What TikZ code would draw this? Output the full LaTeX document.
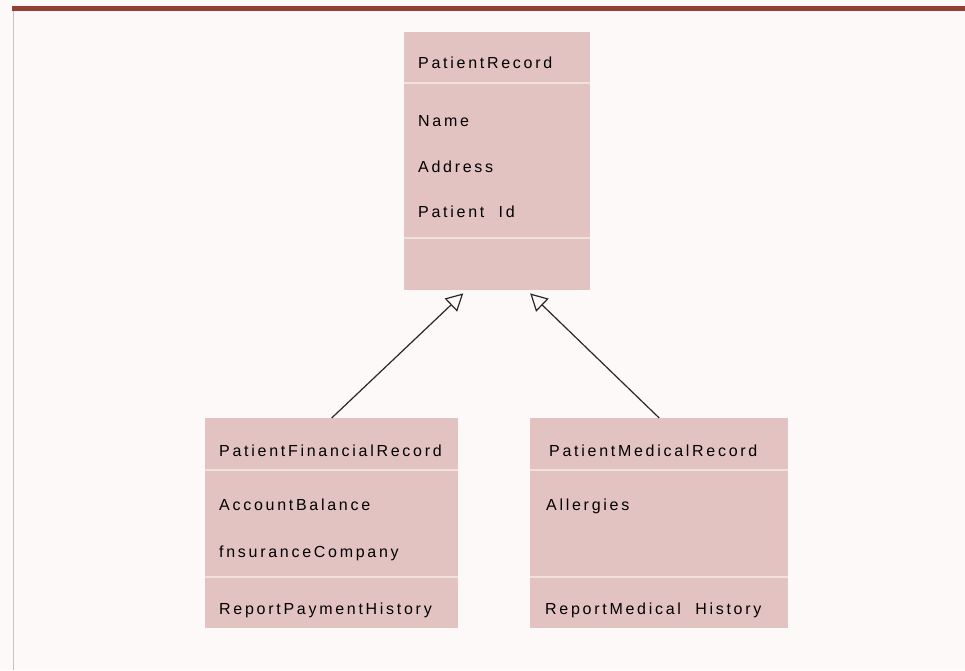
\documentclass[tikz,border=0pt]{standalone}
\usepackage{fontspec}
\setmainfont{Liberation Sans}
\newfontfamily\classfont{Liberation Sans}[LetterSpace=17]
\usepackage{tikz}
\usetikzlibrary{arrows.meta,positioning,calc}
\usepackage{xcolor}
\definecolor{BarRed}{RGB}{150,62,52}
\definecolor{BoxPink}{RGB}{226,195,193}
\definecolor{SepPink}{RGB}{240,224,222}
\definecolor{PageTint}{RGB}{253,249,249}
\definecolor{EdgeGray}{RGB}{200,196,196}
\definecolor{LineDark}{RGB}{40,40,40}

\begin{document}
\begin{tikzpicture}[x=1pt,y=-1pt,
  cls/.style={fill=BoxPink,inner sep=0pt,anchor=north west},
  sep/.style={draw=SepPink,line width=1.6pt},
  attr/.style={font=\classfont\fontsize{16}{19}\selectfont,
               inner sep=0pt,anchor=base west},
  gen/.style={draw=LineDark,line width=1.2pt,
              -{Triangle[length=17pt,width=18pt,fill=PageTint,line width=1.2pt]}},
]
\useasboundingbox (0,0) rectangle (965,670);
% page
\fill[PageTint] (0,0) rectangle (965,670);
\fill[BarRed] (12,6) rectangle (965,11);
\draw[EdgeGray,line width=1pt] (13,11) -- (13,670);

% PatientRecord --- base class
\node[cls,minimum width=186pt,minimum height=258pt] (rec) at (404,32) {};
\draw[sep] ($(rec.north west)+(0,51)$) -- ($(rec.north east)+(0,51)$);
\draw[sep] ($(rec.north west)+(0,206)$) -- ($(rec.north east)+(0,206)$);
\node[attr] (recname) at (418,68) {PatientRecord};
\node[attr] (recnm) at (418,126) {Name};
\node[attr] (recad) at (418,172) {Address};
\node[attr] (recid) at (418,217) {Patient\ \ Id};

% PatientFinancialRecord
\node[cls,minimum width=253pt,minimum height=210pt] (fin) at (205,418) {};
\draw[sep] ($(fin.north west)+(0,52)$) -- ($(fin.north east)+(0,52)$);
\draw[sep] ($(fin.north west)+(0,159)$) -- ($(fin.north east)+(0,159)$);
\node[attr] (finname) at (219,456) {PatientFinancialRecord};
\node[attr] (finbal) at (219,510) {AccountBalance};
\node[attr] (fincomp) at (219,557) {fnsuranceCompany};
\node[attr] (finop) at (219,614) {ReportPaymentHistory};

% PatientMedicalRecord
\node[cls,minimum width=258pt,minimum height=210pt] (med) at (530,418) {};
\draw[sep] ($(med.north west)+(0,52)$) -- ($(med.north east)+(0,52)$);
\draw[sep] ($(med.north west)+(0,159)$) -- ($(med.north east)+(0,159)$);
\node[attr] (medname) at (549,456) {PatientMedicalRecord};
\node[attr] (medall) at (546,510) {Allergies};
\node[attr] (medop) at (545,614) {ReportMedical\ \ History};

% generalisation arrows
\coordinate (recL) at ($(rec.south)+(-34,3)$);
\coordinate (recR) at ($(rec.south)+(33,3)$);
\draw[gen] (fin.north) -- (recL);
\draw[gen] (med.north) -- (recR);
\end{tikzpicture}
\end{document}
